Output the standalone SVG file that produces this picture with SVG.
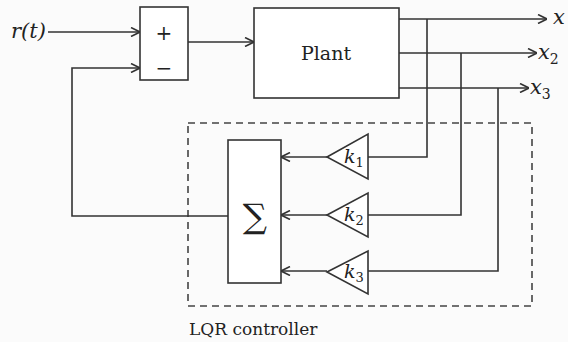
<svg xmlns="http://www.w3.org/2000/svg" width="568" height="342" viewBox="0 0 568 342">
<style>
.ln{stroke:#333;stroke-width:1.6;fill:none}
.box{stroke:#333;stroke-width:1.6;fill:#fff}
text{font-family:'DejaVu Serif','Liberation Serif',serif;fill:#222}
.i{font-style:italic}
</style>
<defs>
<marker id="ah" viewBox="0 0 10 10" refX="10" refY="5" markerWidth="10" markerHeight="10" markerUnits="userSpaceOnUse" orient="auto">
<path d="M1,0.5 L10,5 L1,9.5" fill="none" stroke="#333" stroke-width="1.6"/>
</marker>
</defs>
<rect width="568" height="342" fill="#fbfbfb"/>
<g id="controller-frame">
<rect x="188" y="123" width="344" height="183" fill="none" stroke="#444" stroke-width="1.6" stroke-dasharray="7,5"/>
<text x="189" y="335" font-size="17">LQR controller</text>
</g>
<g id="connectors">
<line class="ln" x1="48" y1="32" x2="140" y2="32" marker-end="url(#ah)"/>
<polyline class="ln" points="228,216 72,216 72,68 140,68" marker-end="url(#ah)"/>
<line class="ln" x1="188" y1="42" x2="254" y2="42" marker-end="url(#ah)"/>
<line class="ln" x1="399" y1="19" x2="547" y2="19" marker-end="url(#ah)"/>
<line class="ln" x1="399" y1="53" x2="537" y2="53" marker-end="url(#ah)"/>
<line class="ln" x1="399" y1="88" x2="529" y2="88" marker-end="url(#ah)"/>
<polyline class="ln" points="427,19 427,157 368,157"/>
<polyline class="ln" points="461,53 461,215 368,215"/>
<polyline class="ln" points="498,88 498,271 368,271"/>
<line class="ln" x1="327" y1="157" x2="281" y2="157" marker-end="url(#ah)"/>
<line class="ln" x1="327" y1="215" x2="281" y2="215" marker-end="url(#ah)"/>
<line class="ln" x1="327" y1="271" x2="281" y2="271" marker-end="url(#ah)"/>
</g>
<g id="input-label">
<text class="i" x="11" y="38" font-size="21">r(t)</text>
</g>
<g id="summer">
<rect class="box" x="140" y="7" width="48" height="73"/>
<text x="164" y="40" font-size="20" text-anchor="middle">+</text>
<text x="164" y="75" font-size="20" text-anchor="middle">−</text>
</g>
<g id="plant">
<rect class="box" x="254" y="8" width="145" height="90"/>
<text x="326" y="60" font-size="19" text-anchor="middle">Plant</text>
</g>
<g id="outputs">
<text class="i" x="553" y="24" font-size="21">x</text>
<text class="i" x="538" y="59" font-size="21">x<tspan font-size="14" font-style="normal" dy="5">2</tspan></text>
<text class="i" x="530" y="94" font-size="21">x<tspan font-size="14" font-style="normal" dy="5">3</tspan></text>
</g>
<g id="k1">
<polygon class="box" points="327,157 368,134 368,179"/>
<text class="i" x="344" y="163" font-size="19">k<tspan font-size="13" font-style="normal" dy="4">1</tspan></text>
</g>
<g id="k2">
<polygon class="box" points="327,215 368,193 368,237"/>
<text class="i" x="344" y="221" font-size="19">k<tspan font-size="13" font-style="normal" dy="4">2</tspan></text>
</g>
<g id="k3">
<polygon class="box" points="327,272 368,251 368,294"/>
<text class="i" x="344" y="278" font-size="19">k<tspan font-size="13" font-style="normal" dy="4">3</tspan></text>
</g>
<g id="sigma">
<rect class="box" x="228" y="140" width="53" height="143"/>
<text x="255" y="228" font-size="34" text-anchor="middle">∑</text>
</g>
</svg>
